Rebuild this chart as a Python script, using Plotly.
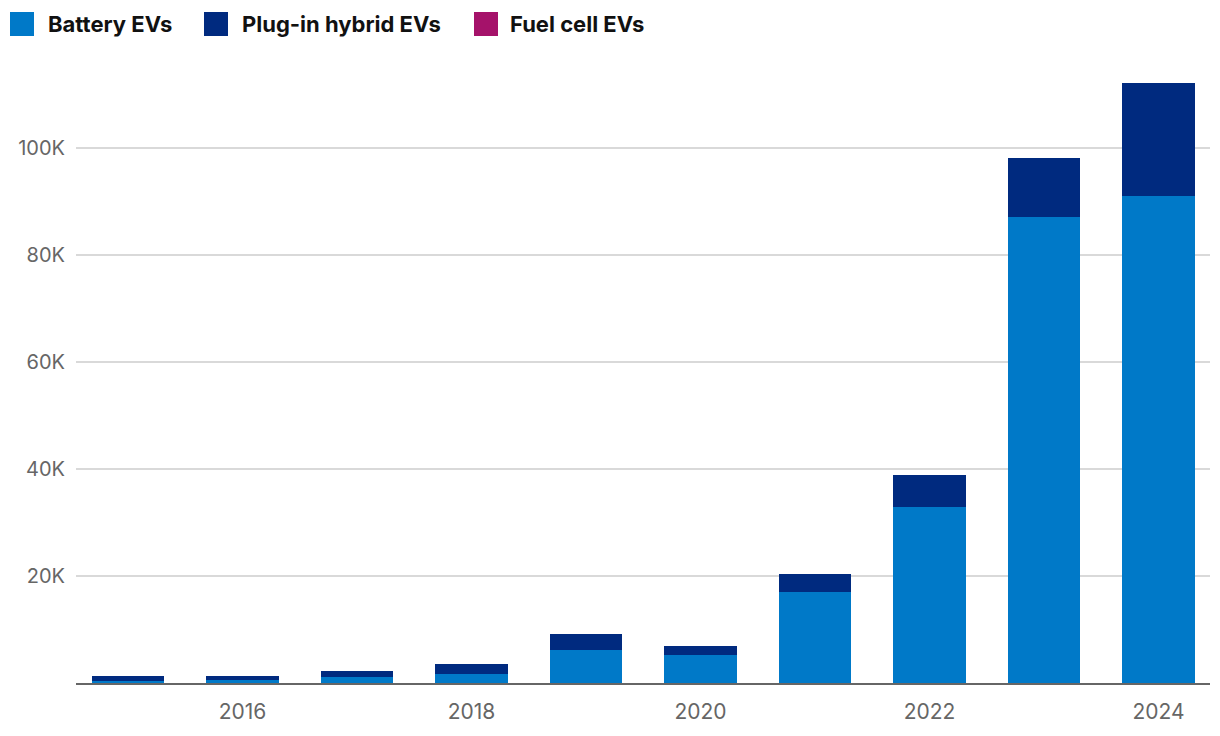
import plotly.graph_objects as go

years = [2015, 2016, 2017, 2018, 2019, 2020, 2021, 2022, 2023, 2024]
battery = [300, 500, 1100, 1700, 6100, 5200, 17000, 32900, 87100, 91000]
plugin = [1000, 800, 1100, 1800, 3000, 1700, 3300, 6000, 11000, 21100]
fuelcell = [0, 0, 0, 0, 0, 0, 0, 0, 0, 0]

series_names = ["Battery EVs", "Plug-in hybrid EVs", "Fuel cell EVs"]
series_colors = ["#0079C8", "#002A7F", "#A5126A"]
series_values = [battery, plugin, fuelcell]

ytick_vals = [20000, 40000, 60000, 80000, 100000]
ytick_text = ["20K", "40K", "60K", "80K", "100K"]
xtick_vals = [2016, 2018, 2020, 2022, 2024]

OFF = 8  # page body margin
W, H = 1220 - OFF, 736 - OFF
ML, MR, MT, MB = 76 - OFF, 10, 70 - OFF, 53
PW = W - ML - MR
PH = H - MT - MB

fig = go.Figure()
for name, color, vals in zip(series_names, series_colors, series_values):
    fig.add_trace(go.Bar(x=years, y=vals, name=name, marker_color=color,
                         marker_line_width=0, showlegend=False))

# custom legend (page coordinates)
leg_squares_x = [10, 204, 474]
leg_text_x = [46, 240, 508]
for name, color, sx, tx in zip(series_names, series_colors, leg_squares_x, leg_text_x):
    sx -= OFF
    tx -= OFF
    fig.add_shape(type="rect", xref="paper", yref="paper",
                  x0=(sx - ML) / PW, x1=(sx + 24 - ML) / PW,
                  y0=1 + (MT - (36 - OFF)) / PH, y1=1 + (MT - (12 - OFF)) / PH,
                  fillcolor=color, line_width=0)
    fig.add_annotation(text=name, xref="paper", yref="paper",
                       x=(tx - ML) / PW, y=1 + (MT - (24 - OFF)) / PH,
                       xanchor="left", yanchor="middle", showarrow=False,
                       font=dict(family="Inter", size=22, color="#111111", weight="bold"))

fig.update_layout(
    width=W, height=H,
    margin=dict(l=ML, r=MR, t=MT, b=MB),
    barmode="stack", bargap=0.37,
    plot_bgcolor="white", paper_bgcolor="white",
    font=dict(family="Inter", size=19, color="#666666"),
    xaxis=dict(range=[2014.546, 2024.45], tickvals=xtick_vals,
               showgrid=False, zeroline=False, showline=True,
               linecolor="#666666", linewidth=2, ticks="",
               ticklabelstandoff=9,
               tickfont=dict(family="Inter", size=21, color="#666666")),
    yaxis=dict(range=[0, 114600], tickvals=ytick_vals, ticktext=ytick_text,
               showgrid=True, gridcolor="#D9D9D9", gridwidth=1.5,
               zeroline=False, showline=False, ticks="",
               ticklabelstandoff=10,
               tickfont=dict(family="Inter", size=20, color="#666666")),
    hovermode="x",
)

fig.write_html("out.html")
